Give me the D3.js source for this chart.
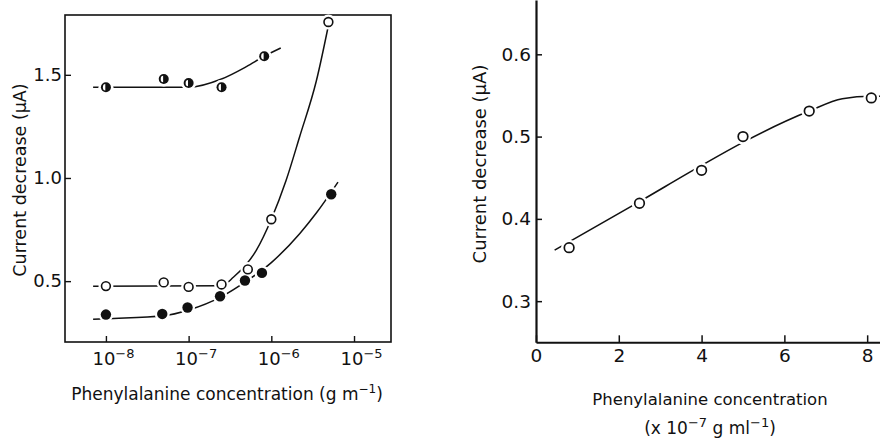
<!DOCTYPE html>
<html>
<head>
    <meta charset="utf-8">
    <title>Phenylalanine current decrease</title>
    <script src="https://cdnjs.cloudflare.com/ajax/libs/d3/7.8.5/d3.min.js"></script>
    <style>
        html, body {
            margin: 0;
            padding: 0;
            background: #fff;
        }
        svg text {
            font-family: "DejaVu Sans", "Liberation Sans", sans-serif;
            fill: #111;
        }
        .axis path, .axis line {
            stroke: #111;
        }
    </style>
</head>
<body>
    <svg id="chart" width="880" height="441"></svg>

    <script>
        // ---- left panel: log concentration (g/ml) vs current decrease (uA)
        const halfX = [1e-8, 5e-8, 1e-7, 2.5e-7, 8.2e-7];
        const halfY = [1.44, 1.48, 1.46, 1.44, 1.59];
        const openX = [1e-8, 5e-8, 1e-7, 2.5e-7, 5.2e-7, 1e-6, 4.9e-6];
        const openY = [0.476, 0.494, 0.472, 0.484, 0.557, 0.80, 1.756];
        const filledX = [1e-8, 4.8e-8, 9.7e-8, 2.4e-7, 4.8e-7, 7.7e-7, 5.3e-6];
        const filledY = [0.338, 0.341, 0.372, 0.427, 0.503, 0.540, 0.921];

        // hand drawn fit curves
        const halfCurveX = [7e-9, 1e-7, 2.5e-7, 5e-7, 8.2e-7, 1.3e-6];
        const halfCurveY = [1.44, 1.44, 1.48, 1.54, 1.59, 1.63];
        const openCurveX = [7e-9, 2.5e-7, 3.5e-7, 6.6e-7, 1e-6, 1.5e-6, 2.2e-6, 3.5e-6, 5.2e-6];
        const openCurveY = [0.475, 0.478, 0.52, 0.65, 0.80, 0.985, 1.20, 1.47, 1.79];
        const filledCurveX = [7e-9, 1e-8, 5e-8, 1e-7, 2.5e-7, 5e-7, 1e-6, 2.2e-6, 3.5e-6, 6.4e-6];
        const filledCurveY = [0.315, 0.318, 0.332, 0.36, 0.425, 0.5, 0.59, 0.73, 0.83, 0.98];

        const leftXTicks = [1e-8, 1e-7, 1e-6, 1e-5];
        const leftYTicks = [0.5, 1.0, 1.5];

        // ---- right panel: linear concentration (x10^-7 g/ml)
        const linX = [0.8, 2.5, 4.0, 5.0, 6.6, 8.1];
        const linY = [0.365, 0.419, 0.459, 0.500, 0.531, 0.547];
        const linCurveX = [0.45, 2.5, 4.0, 5.0, 6.6, 7.4, 8.1, 8.6];
        const linCurveY = [0.362, 0.421, 0.465, 0.493, 0.531, 0.546, 0.549, 0.549];

        const rightXTicks = [0, 2, 4, 6, 8];
        const rightYTicks = [0.3, 0.4, 0.5, 0.6];

        const zip = (xs, ys) => xs.map((x, i) => [x, ys[i]]);

        const svg = d3.select("#chart");

        // ===== LEFT =====
        const L = { x0: 65, x1: 391, y0: 15, y1: 342 };
        const xL = d3.scaleLog().domain([3.2e-9, 2.8e-5]).range([L.x0, L.x1]);
        const yL = d3.scaleLinear().domain([0.205, 1.79]).range([L.y1, L.y0]);

        const left = svg.append("g");

        left.append("rect")
            .attr("x", L.x0).attr("y", L.y0)
            .attr("width", L.x1 - L.x0).attr("height", L.y1 - L.y0)
            .attr("fill", "none").attr("stroke", "#111").attr("stroke-width", 1.6);

        const gxL = left.append("g")
            .attr("class", "axis")
            .attr("transform", `translate(0,${L.y1})`)
            .call(d3.axisBottom(xL).tickValues(leftXTicks).tickSizeInner(-6).tickSizeOuter(0).tickPadding(10));
        gxL.select(".domain").remove();
        gxL.selectAll("line").attr("stroke-width", 1.4);
        gxL.selectAll("text")
            .attr("text-anchor", "start")
            .attr("x", -14)
            .attr("font-size", 18)
            .each(function (d) {
                const t = d3.select(this);
                t.text(null);
                t.append("tspan").text("10");
                t.append("tspan").attr("dy", -7).attr("font-size", 13)
                    .text("\u2212" + Math.round(-Math.log10(d)));
            });

        const gyL = left.append("g")
            .attr("class", "axis")
            .attr("transform", `translate(${L.x0},0)`)
            .call(d3.axisLeft(yL).tickValues(leftYTicks).tickSizeInner(-6).tickSizeOuter(0).tickPadding(3)
                .tickFormat(d3.format(".1f")));
        gyL.select(".domain").remove();
        gyL.selectAll("line").attr("stroke-width", 1.4);
        gyL.selectAll("text").attr("font-size", 18);

        left.append("text")
            .attr("transform", `translate(26,180) rotate(-90)`)
            .attr("text-anchor", "middle")
            .attr("font-size", 17.5)
            .text("Current decrease (\u03bcA)");

        const xt = left.append("text")
            .attr("x", 227).attr("y", 400)
            .attr("text-anchor", "middle")
            .attr("font-size", 17);
        xt.append("tspan").text("Phenylalanine concentration (g m");
        xt.append("tspan").attr("dy", -7).attr("font-size", 12).text("\u22121");
        xt.append("tspan").attr("dy", 7).text(")");

        const lineL = d3.line().x(d => xL(d[0])).y(d => yL(d[1])).curve(d3.curveMonotoneX);

        [zip(halfCurveX, halfCurveY), zip(openCurveX, openCurveY), zip(filledCurveX, filledCurveY)]
            .forEach(c => {
                left.append("path")
                    .attr("d", lineL(c))
                    .attr("fill", "none")
                    .attr("stroke", "#111")
                    .attr("stroke-width", 1.5);
            });

        // white halos so lines break at markers
        const allL = [...zip(halfX, halfY), ...zip(openX, openY), ...zip(filledX, filledY)];
        left.selectAll(".halo")
            .data(allL)
            .join("circle")
            .attr("cx", d => xL(d[0])).attr("cy", d => yL(d[1]))
            .attr("r", 7.5).attr("fill", "#fff");

        left.selectAll(".open")
            .data(zip(openX, openY))
            .join("circle")
            .attr("cx", d => xL(d[0])).attr("cy", d => yL(d[1]))
            .attr("r", 4.4).attr("fill", "#fff").attr("stroke", "#111").attr("stroke-width", 1.6);

        left.selectAll(".filled")
            .data(zip(filledX, filledY))
            .join("circle")
            .attr("cx", d => xL(d[0])).attr("cy", d => yL(d[1]))
            .attr("r", 5.2).attr("fill", "#111");

        const half = left.selectAll(".half")
            .data(zip(halfX, halfY))
            .join("g")
            .attr("transform", d => `translate(${xL(d[0])},${yL(d[1])})`);
        half.append("circle").attr("r", 5).attr("fill", "#111");
        half.append("path")
            .attr("d", "M-0.6,-3.2 A2.4 3.2 0 0 0 -0.6,3.2 Z")
            .attr("fill", "#fff");

        // ===== RIGHT =====
        const R = { x0: 536, x1: 880, y0: 0, y1: 342.3 };
        const xR = d3.scaleLinear().domain([0, 8.31]).range([R.x0, R.x1]);
        const yR = d3.scaleLinear().domain([0.25, 0.666]).range([R.y1, R.y0]);

        const right = svg.append("g");

        const gxR = right.append("g")
            .attr("class", "axis")
            .attr("transform", `translate(0,${R.y1})`)
            .call(d3.axisBottom(xR).tickValues(rightXTicks).tickSizeInner(-7).tickSizeOuter(0).tickPadding(7));
        gxR.select(".domain").attr("stroke-width", 2);
        gxR.selectAll("line").attr("stroke-width", 1.5);
        gxR.selectAll("text").attr("font-size", 18.5);

        const gyR = right.append("g")
            .attr("class", "axis")
            .attr("transform", `translate(${R.x0},0)`)
            .call(d3.axisLeft(yR).tickValues(rightYTicks).tickSizeInner(-6).tickSizeOuter(0).tickPadding(5)
                .tickFormat(d3.format(".1f")));
        gyR.select(".domain").attr("stroke-width", 2.2);
        gyR.selectAll("line").attr("stroke-width", 1.5);
        gyR.selectAll("text").attr("font-size", 18.5);

        right.append("text")
            .attr("transform", `translate(486,164) rotate(-90)`)
            .attr("text-anchor", "middle")
            .attr("font-size", 18)
            .text("Current decrease (\u03bcA)");

        right.append("text")
            .attr("x", 710).attr("y", 405)
            .attr("text-anchor", "middle")
            .attr("font-size", 16.5)
            .text("Phenylalanine concentration");

        const xt2 = right.append("text")
            .attr("x", 710).attr("y", 434)
            .attr("text-anchor", "middle")
            .attr("font-size", 17);
        xt2.append("tspan").text("(x 10");
        xt2.append("tspan").attr("dy", -7).attr("font-size", 13).text("\u22127");
        xt2.append("tspan").attr("dy", 7).text(" g ml");
        xt2.append("tspan").attr("dy", -7).attr("font-size", 13).text("\u22121");
        xt2.append("tspan").attr("dy", 7).text(")");

        const lineR = d3.line().x(d => xR(d[0])).y(d => yR(d[1])).curve(d3.curveMonotoneX);
        right.append("path")
            .attr("d", lineR(zip(linCurveX, linCurveY)))
            .attr("fill", "none")
            .attr("stroke", "#111")
            .attr("stroke-width", 1.6);

        right.selectAll(".halo")
            .data(zip(linX, linY))
            .join("circle")
            .attr("cx", d => xR(d[0])).attr("cy", d => yR(d[1]))
            .attr("r", 8).attr("fill", "#fff");

        right.selectAll(".open")
            .data(zip(linX, linY))
            .join("circle")
            .attr("cx", d => xR(d[0])).attr("cy", d => yR(d[1]))
            .attr("r", 4.8).attr("fill", "#fff").attr("stroke", "#111").attr("stroke-width", 1.7);
    </script>
</body>
</html>
